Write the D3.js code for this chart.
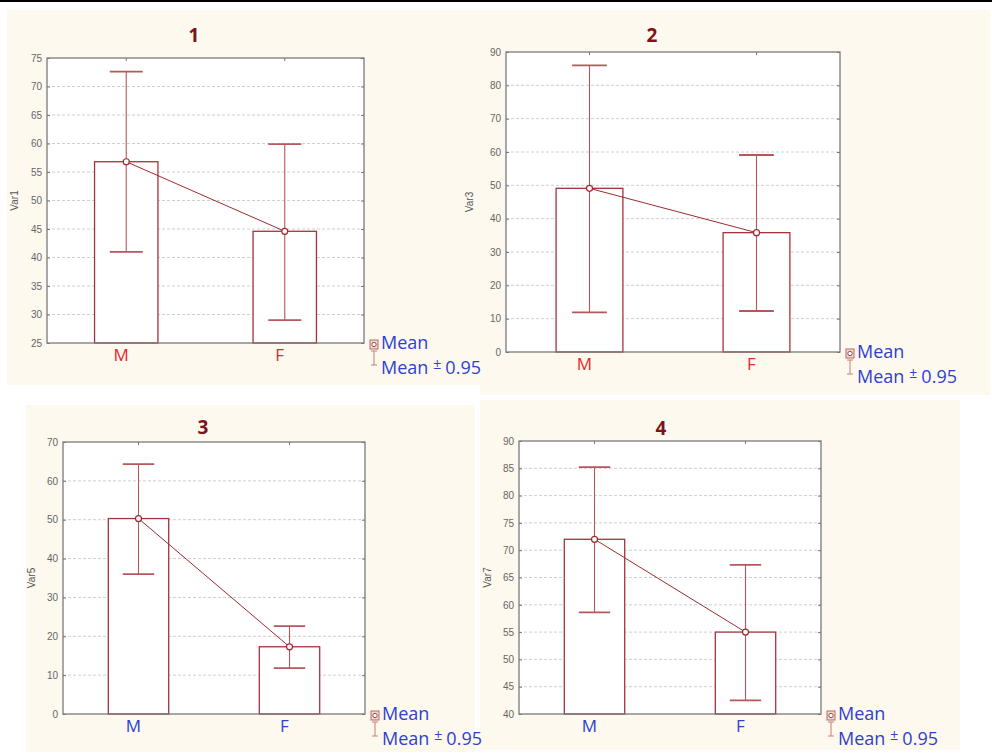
<!DOCTYPE html>
<html>
<head>
<meta charset="utf-8">
<script src="https://cdn.jsdelivr.net/npm/d3@7"></script>
<style>
  body { margin: 0; background: #fff; }
  svg { display: block; }
</style>
</head>
<body>
<div id="chart"></div>
<script>
// data
const titles = ["1", "2", "3", "4"];
const varNames = ["Var1", "Var3", "Var5", "Var7"];
const groups = ["M", "F"];
const yDomains = [[25, 75], [0, 90], [0, 70], [40, 90]];
const tickSteps = [5, 10, 10, 5];
const means = [[56.8, 44.6], [49.1, 35.8], [50.3, 17.3], [72.0, 55.0]];
const lowers = [[41.0, 29.0], [11.9, 12.3], [36.0, 11.8], [58.6, 42.5]];
const uppers = [[72.6, 59.9], [86.0, 59.1], [64.3, 22.6], [85.2, 67.3]];
const labelColors = ["#e8262b", "#e8262b", "#2f3fd0", "#2f3fd0"];
const legendItems = ["Mean", "Mean"];

// layout
const W = 992, H = 756;
const plots = [
  { x0: 47, x1: 364, y0: 58, y1: 343 },
  { x0: 506, x1: 840, y0: 52, y1: 352 },
  { x0: 63, x1: 365, y0: 442, y1: 714 },
  { x0: 519, x1: 821, y0: 441, y1: 714 }
];
const creams = [
  [7, 10, 473, 375], [480, 10, 510, 385], [26, 405, 449, 347], [480, 400, 480, 350]
];
const titleX = [194, 652, 203, 661];
const titleY = [35, 35, 427, 428];
const ylabX = [18, 473, 35, 491];

const red = "#9e2a2f";
const barRed = "#a3333a";
const whisker = "#b5575b";

const svg = d3.select("#chart").append("svg")
  .attr("width", W).attr("height", H);

svg.append("line")
  .attr("x1", 0).attr("x2", W).attr("y1", 1).attr("y2", 1)
  .attr("stroke", "#000").attr("stroke-width", 2);

svg.selectAll("rect.cream")
  .data(creams)
  .join("rect")
  .attr("class", "cream")
  .attr("x", d => d[0]).attr("y", d => d[1])
  .attr("width", d => d[2]).attr("height", d => d[3])
  .attr("fill", "#fdf9ef");

plots.forEach((p, i) => drawPanel(i, p));

function drawPanel(i, p) {
  const g = svg.append("g");

  const x = d3.scaleBand().domain(groups).range([p.x0, p.x1]).paddingInner(0.6).paddingOuter(0.3);
  const y = d3.scaleLinear().domain(yDomains[i]).range([p.y1, p.y0]);
  const ticks = d3.range(yDomains[i][0], yDomains[i][1] + 0.001, tickSteps[i]);
  const cx = d => x(d) + x.bandwidth() / 2;

  g.append("rect")
    .attr("x", p.x0).attr("y", p.y0)
    .attr("width", p.x1 - p.x0).attr("height", p.y1 - p.y0)
    .attr("fill", "#fff");

  // grid
  g.selectAll("line.grid")
    .data(ticks.slice(1, -1))
    .join("line")
    .attr("x1", p.x0).attr("x2", p.x1)
    .attr("y1", d => y(d)).attr("y2", d => y(d))
    .attr("stroke", "#cfcfcf").attr("stroke-dasharray", "3,2");

  // left axis
  const axL = g.append("g")
    .attr("transform", `translate(${p.x0},0)`)
    .call(d3.axisLeft(y).tickValues(ticks).tickSize(-3).tickPadding(5));
  axL.select(".domain").remove();
  axL.selectAll("line").attr("stroke", "#777");
  axL.selectAll("text").attr("fill", "#666")
    .style("font-family", "Liberation Sans, Arial, sans-serif").style("font-size", "10px");

  // right axis ticks
  g.append("g")
    .attr("transform", `translate(${p.x1},0)`)
    .call(d3.axisRight(y).tickValues(ticks).tickSize(-3).tickFormat(""))
    .call(a => a.select(".domain").remove())
    .selectAll("line").attr("stroke", "#777");

  // top / bottom category ticks
  [[p.y0, 3], [p.y1, -3]].forEach(([yy, s]) => {
    g.selectAll(null)
      .data(groups)
      .join("line")
      .attr("x1", d => cx(d)).attr("x2", d => cx(d))
      .attr("y1", yy).attr("y2", yy + s)
      .attr("stroke", "#777");
  });

  // bars
  g.selectAll("rect.bar")
    .data(groups)
    .join("rect")
    .attr("x", d => x(d)).attr("width", x.bandwidth())
    .attr("y", (d, j) => y(means[i][j]))
    .attr("height", (d, j) => p.y1 - y(means[i][j]))
    .attr("fill", "#fff").attr("stroke", barRed).attr("stroke-width", 1.3);

  // frame
  g.append("rect")
    .attr("x", p.x0).attr("y", p.y0)
    .attr("width", p.x1 - p.x0).attr("height", p.y1 - p.y0)
    .attr("fill", "none").attr("stroke", "#7a7a7a").attr("stroke-width", 1.3);

  // whiskers
  const capW = x.bandwidth() * 0.26;
  groups.forEach((d, j) => {
    const c = cx(d);
    g.append("line")
      .attr("x1", c).attr("x2", c)
      .attr("y1", y(uppers[i][j])).attr("y2", y(lowers[i][j]))
      .attr("stroke", whisker).attr("stroke-width", 1.1);
    [uppers[i][j], lowers[i][j]].forEach(v => {
      g.append("line")
        .attr("x1", c - capW).attr("x2", c + capW)
        .attr("y1", y(v)).attr("y2", y(v))
        .attr("stroke", whisker).attr("stroke-width", 1.8);
    });
  });

  // mean line
  g.append("path")
    .datum(groups)
    .attr("d", d3.line().x(d => cx(d)).y((d, j) => y(means[i][j])))
    .attr("fill", "none").attr("stroke", red).attr("stroke-width", 1);

  g.selectAll("circle.mean")
    .data(groups)
    .join("circle")
    .attr("cx", d => cx(d)).attr("cy", (d, j) => y(means[i][j]))
    .attr("r", 3).attr("fill", "#fff").attr("stroke", red).attr("stroke-width", 1.2);

  // category labels
  g.selectAll("text.cat")
    .data(groups)
    .join("text")
    .attr("x", d => cx(d) - 5).attr("y", p.y1 + 18)
    .attr("text-anchor", "middle")
    .attr("fill", labelColors[i])
    .style("font-family", "Open Sans, sans-serif").style("font-size", "17px")
    .text(d => d);

  // title
  g.append("text")
    .attr("x", titleX[i]).attr("y", titleY[i] + 7)
    .attr("text-anchor", "middle")
    .attr("fill", "#7d1219")
    .style("font-family", "Open Sans, sans-serif").style("font-size", "19px").style("font-weight", "bold")
    .text(titles[i]);

  // y label
  g.append("text")
    .attr("transform", `translate(${ylabX[i]},${(p.y0 + p.y1) / 2}) rotate(-90)`)
    .attr("text-anchor", "middle")
    .attr("fill", "#555")
    .style("font-family", "Liberation Sans, Arial, sans-serif").style("font-size", "10px")
    .text(varNames[i]);

  // legend
  const lx = p.x1 + 6, ly = p.y1;
  const lg = g.append("g").attr("transform", `translate(${lx},${ly})`);
  lg.append("rect").attr("x", 0).attr("y", -3).attr("width", 8).attr("height", 9)
    .attr("fill", "#f3d9d0").attr("stroke", "#b76a62").attr("stroke-width", 1);
  lg.append("circle").attr("cx", 4).attr("cy", 1.5).attr("r", 2.2)
    .attr("fill", "#fff").attr("stroke", "#8a3a3a").attr("stroke-width", 0.9);
  lg.append("path").attr("d", "M4,8V22M1,8H7M1,22H7")
    .attr("stroke", "#c08078").attr("stroke-width", 1).attr("fill", "none");
  const leg = lg.selectAll("text.leg")
    .data(legendItems)
    .join("text")
    .attr("x", 11).attr("y", (d, k) => 6 + k * 25)
    .attr("fill", "#2f3fd0")
    .style("font-family", "Open Sans, sans-serif").style("font-size", "18px")
    .text(d => d);
  const second = d3.select(leg.nodes()[1]);
  second.append("tspan").attr("dx", 5).attr("dy", -5).style("font-size", "14px").text("±");
  second.append("tspan").attr("dx", 4).attr("dy", 5).text("0.95");
}
</script>
</body>
</html>
